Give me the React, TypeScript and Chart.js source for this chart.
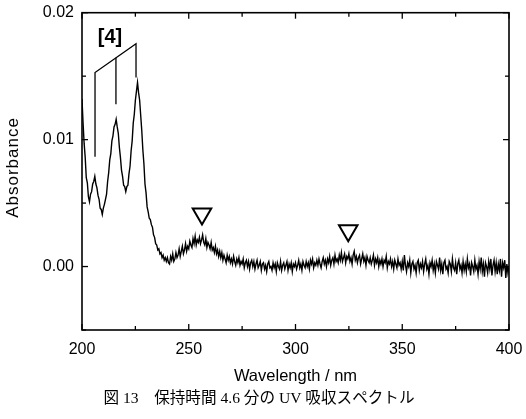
import React, { useEffect, useRef } from "react";
import { Chart, registerables } from "chart.js";

Chart.register(...registerables);

const wavelengthStart = 200;
const wavelengthStep = 0.5;
const absorbance = [
  0.0132, 0.0113, 0.0097, 0.0086, 0.0070, 0.0066, 0.0055, 0.0051, 0.0057, 0.0059,
  0.0065, 0.0067, 0.0071, 0.0065, 0.0062, 0.0056, 0.0053, 0.0046, 0.0045, 0.0041,
  0.0046, 0.0049, 0.0053, 0.0057, 0.0067, 0.0074, 0.0084, 0.0089, 0.0099, 0.0103,
  0.0110, 0.0112, 0.0116, 0.0110, 0.0105, 0.0094, 0.0086, 0.0076, 0.0071, 0.0064,
  0.0063, 0.0059, 0.0063, 0.0064, 0.0073, 0.0079, 0.0091, 0.0099, 0.0113, 0.0120,
  0.0131, 0.0138, 0.0145, 0.0137, 0.0131, 0.0119, 0.0107, 0.0092, 0.0081, 0.0065,
  0.0058, 0.0047, 0.0043, 0.0038, 0.0037, 0.0033, 0.0031, 0.0025, 0.0023, 0.0018,
  0.0017, 0.0013, 0.0014, 0.0010, 0.0011, 0.0007, 0.0009, 0.0005, 0.0007, 0.0004,
  0.0007, 0.0003, 0.0002, 0.0008, 0.0005, 0.0010, 0.0004, 0.0006, 0.0011, 0.0007,
  0.0009, 0.0014, 0.0008, 0.0012, 0.0016, 0.0010, 0.0013, 0.0018, 0.0012, 0.0016,
  0.0014, 0.0020, 0.0017, 0.0015, 0.0022, 0.0018, 0.0024, 0.0017, 0.0021, 0.0019,
  0.0023, 0.0018, 0.0021, 0.0025, 0.0019, 0.0017, 0.0022, 0.0015, 0.0019, 0.0017,
  0.0014, 0.0019, 0.0013, 0.0015, 0.0011, 0.0016, 0.0010, 0.0013, 0.0008, 0.0012,
  0.0007, 0.0011, 0.0005, 0.0009, 0.0006, 0.0003, 0.0009, 0.0005, 0.0008, 0.0003,
  0.0006, 0.0002, 0.0008, 0.0004, 0.0001, 0.0006, 0.0003, 0.0007, 0.0001, 0.0004,
  0.0002, 0.0006, -0.0001, 0.0003, 0.0005, 0.0000, 0.0004, -0.0002, 0.0003, 0.0005,
  0.0000, 0.0004, -0.0002, 0.0002, 0.0005, -0.0001, 0.0001, 0.0004, -0.0003, 0.0002,
  0.0003, -0.0002, 0.0001, -0.0004, 0.0002, 0.0004, -0.0001, 0.0000, -0.0003, 0.0003,
  -0.0001, 0.0002, -0.0004, 0.0003, 0.0000, -0.0002, 0.0004, -0.0003, 0.0001, 0.0003,
  -0.0002, 0.0001, 0.0004, -0.0003, 0.0002, -0.0001, 0.0003, -0.0004, 0.0002, 0.0000,
  0.0003, -0.0002, 0.0001, 0.0005, -0.0001, 0.0002, -0.0003, 0.0004, 0.0001, -0.0001,
  0.0004, 0.0000, 0.0003, -0.0002, 0.0005, 0.0002, 0.0006, -0.0001, 0.0003, 0.0001,
  0.0005, 0.0001, 0.0006, 0.0002, -0.0001, 0.0004, 0.0007, 0.0002, 0.0005, 0.0000,
  0.0006, 0.0003, 0.0008, 0.0001, 0.0005, 0.0007, 0.0002, 0.0009, 0.0004, 0.0006,
  0.0003, 0.0009, 0.0005, 0.0011, 0.0004, 0.0007, 0.0010, 0.0003, 0.0008, 0.0006,
  0.0010, 0.0004, 0.0007, 0.0002, 0.0009, 0.0012, 0.0005, 0.0008, 0.0003, 0.0007,
  0.0009, 0.0002, 0.0006, 0.0010, 0.0004, 0.0007, 0.0001, 0.0008, 0.0005, 0.0003,
  0.0007, 0.0002, 0.0005, 0.0009, 0.0001, 0.0006, 0.0003, 0.0007, 0.0000, 0.0005,
  0.0002, 0.0006, 0.0000, 0.0005, 0.0003, 0.0008, -0.0001, 0.0004, 0.0002, 0.0006,
  0.0000, 0.0004, -0.0002, 0.0005, 0.0002, -0.0001, 0.0006, 0.0001, 0.0003, -0.0002,
  0.0004, -0.0003, 0.0009, 0.0001, -0.0004, 0.0003, 0.0000, 0.0005, -0.0005, 0.0002,
  0.0004, -0.0002, 0.0001, -0.0005, 0.0003, 0.0005, -0.0003, 0.0002, -0.0001, 0.0004,
  -0.0004, 0.0002, 0.0006, -0.0002, 0.0001, -0.0006, 0.0003, 0.0000, 0.0005, -0.0003,
  0.0002, -0.0005, 0.0004, 0.0001, -0.0002, 0.0007, -0.0003, 0.0002, -0.0006, 0.0003,
  0.0005, -0.0002, 0.0000, -0.0005, 0.0004, 0.0002, -0.0004, 0.0006, -0.0001, -0.0003,
  0.0003, -0.0006, 0.0002, 0.0005, -0.0002, 0.0001, -0.0005, 0.0004, -0.0003, 0.0002,
  -0.0004, 0.0006, -0.0001, 0.0002, -0.0007, 0.0003, 0.0000, -0.0004, 0.0005, -0.0002,
  0.0001, -0.0006, 0.0004, -0.0002, 0.0007, -0.0004, 0.0002, -0.0008, 0.0003, 0.0000,
  -0.0005, 0.0004, -0.0002, 0.0006, -0.0007, 0.0001, 0.0005, -0.0004, 0.0003, -0.0006,
  0.0002, -0.0003, 0.0006, -0.0008, 0.0003, -0.0001, 0.0005, -0.0009, 0.0002, -0.0005,
  0.0000,
];

// Bracket annotation "[4]"
const bracketOuterX = [206.1, 206.1, 225.3, 225.3];
const bracketOuterY = [0.00865, 0.01529, 0.01756, 0.0149];
const bracketMiddleX = [215.9, 215.9];
const bracketMiddleY = [0.01645, 0.01279];
const bracketLabel = "[4]";
const bracketLabelX = 213.1;
const bracketLabelY = 0.01802;

// Open inverted triangle markers
const markerX = [256.2, 324.7];
const markerY = [0.00415, 0.00284];

// Axes
const xMin = 200;
const xMax = 400;
const yMin = -0.005;
const yMax = 0.02;
const xMajorTicks = [200, 250, 300, 350, 400];
const xMinorTicks = [225, 275, 325, 375];
const yMajorTicks = [0.0, 0.01, 0.02];
const yMinorTicks = [-0.005, 0.005, 0.015];
const xTitle = "Wavelength / nm";
const yTitle = "Absorbance";
const caption = "図 13　保持時間 4.6 分の UV 吸収スペクトル";

const W = 526;
const H = 419;

const framePlugin = {
  id: "frameAndText",
  afterDraw(chart: any) {
    const ctx = chart.ctx;
    const { left, right, top, bottom } = chart.chartArea;
    const xs = chart.scales.x;
    const ys = chart.scales.y;
    ctx.save();
    ctx.strokeStyle = "#000";
    ctx.lineWidth = 1.6;
    ctx.strokeRect(left, top, right - left, bottom - top);
    ctx.lineWidth = 1.3;
    const tick = (x1: number, y1: number, x2: number, y2: number) => {
      ctx.beginPath();
      ctx.moveTo(x1, y1);
      ctx.lineTo(x2, y2);
      ctx.stroke();
    };
    const major = 6;
    const minor = 4;
    xMajorTicks.forEach((v) => {
      const p = xs.getPixelForValue(v);
      tick(p, bottom, p, bottom - major);
      tick(p, top, p, top + major);
    });
    xMinorTicks.forEach((v) => {
      const p = xs.getPixelForValue(v);
      tick(p, bottom, p, bottom - minor);
      tick(p, top, p, top + minor);
    });
    yMajorTicks.forEach((v) => {
      const p = ys.getPixelForValue(v);
      tick(left, p, left + major, p);
      tick(right, p, right - major, p);
    });
    yMinorTicks.forEach((v) => {
      const p = ys.getPixelForValue(v);
      tick(left, p, left + minor, p);
      tick(right, p, right - minor, p);
    });

    ctx.fillStyle = "#000";
    // bracket label
    ctx.font = "bold 20px 'Liberation Sans', Arial, sans-serif";
    ctx.textAlign = "center";
    ctx.textBaseline = "middle";
    ctx.fillText(bracketLabel, xs.getPixelForValue(bracketLabelX), ys.getPixelForValue(bracketLabelY));

    // x title
    ctx.font = "16.5px 'Liberation Sans', Arial, sans-serif";
    ctx.fillText(xTitle, (left + right) / 2, 376);

    // y title
    ctx.save();
    ctx.translate(13, 167.5);
    ctx.rotate(-Math.PI / 2);
    ctx.font = "17px 'Liberation Sans', Arial, sans-serif";
    (ctx as any).letterSpacing = "1px";
    ctx.fillText(yTitle, 0, 0);
    ctx.restore();

    // caption
    ctx.font = "15.6px 'Liberation Serif', 'Noto Sans CJK JP', serif";
    ctx.fillText(caption, 259, 399);
    ctx.restore();
  },
};

export default function App() {
  const ref = useRef<HTMLCanvasElement | null>(null);
  useEffect(() => {
    if (!ref.current) return;
    const spectrum = absorbance.map((v, i) => ({ x: wavelengthStart + i * wavelengthStep, y: v }));
    const bracketOuter = bracketOuterX.map((x, i) => ({ x, y: bracketOuterY[i] }));
    const bracketMiddle = bracketMiddleX.map((x, i) => ({ x, y: bracketMiddleY[i] }));
    const markers = markerX.map((x, i) => ({ x, y: markerY[i] }));
    const chart = new Chart(ref.current, {
      type: "line",
      data: {
        datasets: [
          {
            data: spectrum,
            borderColor: "#000",
            borderWidth: 1.4,
            pointRadius: 0,
            tension: 0,
          },
          {
            data: bracketOuter,
            borderColor: "#000",
            borderWidth: 1.3,
            pointRadius: 0,
          },
          {
            data: bracketMiddle,
            borderColor: "#000",
            borderWidth: 1.3,
            pointRadius: 0,
          },
          {
            data: markers,
            showLine: false,
            pointStyle: "triangle",
            rotation: 180,
            pointRadius: 10.7,
            pointBorderWidth: 2,
            pointBorderColor: "#000",
            pointBackgroundColor: "rgba(255,255,255,0)",
            borderColor: "#000",
          } as any,
        ],
      },
      options: {
        animation: false,
        responsive: false,
        devicePixelRatio: 1,
        layout: { padding: { left: 0, top: 10, right: 17, bottom: 0 } },
        plugins: { legend: { display: false }, tooltip: { enabled: false } },
        scales: {
          x: {
            type: "linear",
            min: xMin,
            max: xMax,
            grid: { display: false, drawTicks: false },
            border: { display: false },
            afterBuildTicks: (s: any) => {
              s.ticks = xMajorTicks.map((v) => ({ value: v }));
            },
            afterFit: (s: any) => {
              s.height = 89;
              s.paddingLeft = 0;
              s.paddingRight = 0;
            },
            ticks: {
              padding: 10,
              color: "#000",
              font: { family: "'Liberation Sans', Arial, sans-serif", size: 16 },
              maxRotation: 0,
              callback: (v: any) => String(v),
            },
          },
          y: {
            type: "linear",
            min: yMin,
            max: yMax,
            grid: { display: false, drawTicks: false },
            border: { display: false },
            afterBuildTicks: (s: any) => {
              s.ticks = yMajorTicks.map((v) => ({ value: v }));
            },
            afterFit: (s: any) => {
              s.width = 82;
              s.paddingTop = 0;
              s.paddingBottom = 0;
            },
            ticks: {
              padding: 8,
              color: "#000",
              font: { family: "'Liberation Sans', Arial, sans-serif", size: 16 },
              callback: (v: any) => Number(v).toFixed(2),
            },
          },
        },
      },
      plugins: [framePlugin],
    } as any);
    return () => chart.destroy();
  }, []);
  return (
    <div style={{ position: "fixed", left: 0, top: 0, width: W, height: H, background: "#fff" }}>
      <canvas ref={ref} width={W} height={H} style={{ width: W, height: H, display: "block" }} />
    </div>
  );
}
